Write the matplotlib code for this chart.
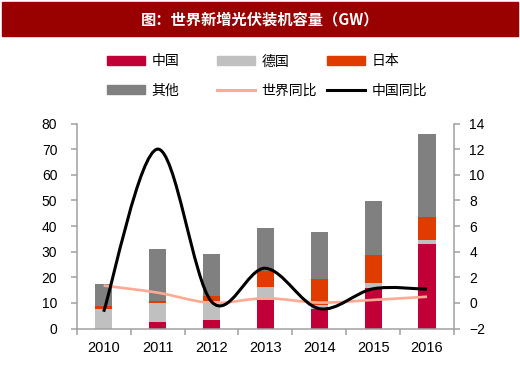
import matplotlib
matplotlib.use("Agg")
import matplotlib.pyplot as plt
from matplotlib.path import Path
from matplotlib.patches import PathPatch, Patch, Rectangle
from matplotlib.lines import Line2D

plt.rcParams['font.family'] = ['Liberation Sans', 'Noto Sans CJK SC', 'DejaVu Sans']

# data
years = ['2010', '2011', '2012', '2013', '2014', '2015', '2016']
china = [0.0, 2.4, 3.3, 11.1, 7.8, 15.7, 33.0]
germany = [7.6, 7.4, 7.6, 5.0, 1.4, 1.9, 1.4]
japan = [1.2, 1.0, 1.8, 6.2, 10.1, 11.1, 9.0]
other = [8.4, 20.1, 16.3, 16.8, 18.5, 21.2, 32.4]
world_yoy = [1.35, 0.8, 0.0, 0.36, 0.02, 0.23, 0.48]
china_yoy = [-0.69, 12.0, 0.1, 2.7, -0.45, 1.1, 1.06]

C_CHINA = '#C00037'
C_GER = '#C0C0C0'
C_JAP = '#E03C00'
C_OTH = '#808080'
C_WORLD = '#FCAA94'
C_CYOY = '#000000'
AXIS_C = '#A0A0A0'


def smooth_path(x, y):
    # excel style smoothed line as bezier segments
    n = len(x)
    verts = [(x[0], y[0])]
    codes = [Path.MOVETO]
    for i in range(n - 1):
        a = i - 1 if i > 0 else i
        b = i + 2 if i + 2 < n else i + 1
        c1 = (x[i] + (x[i + 1] - x[a]) / 6, y[i] + (y[i + 1] - y[a]) / 6)
        c2 = (x[i + 1] - (x[b] - x[i]) / 6, y[i + 1] - (y[b] - y[i]) / 6)
        verts += [c1, c2, (x[i + 1], y[i + 1])]
        codes += [Path.CURVE4] * 3
    return Path(verts, codes)


fig = plt.figure(figsize=(5.2, 3.73), dpi=100)
fig.patches.append(Rectangle((2 / 520, 1 - 36 / 373), 516 / 520, 34 / 373,
                             transform=fig.transFigure, color='#990000', zorder=0))
fig.text(0.5, 1 - 19.5 / 373, '图：世界新增光伏装机容量（GW）', color='white',
         fontsize=11, fontweight='bold', ha='center', va='center',
         family=['Noto Sans CJK SC', 'DejaVu Sans'])

ax = fig.add_axes([76.7 / 520, 1 - 328.5 / 373, (454 - 76.7) / 520, 205 / 373])
x = list(range(len(years)))
w = 0.32
bottom = [0.0] * len(x)
for vals, col in [(china, C_CHINA), (germany, C_GER), (japan, C_JAP), (other, C_OTH)]:
    ax.bar(x, vals, w, bottom=bottom, color=col, linewidth=0)
    bottom = [b + v for b, v in zip(bottom, vals)]

ax.set_ylim(0, 80)
ax.set_yticks(range(0, 81, 10))
ax.set_xlim(-0.5, 6.5)
ax.set_xticks([i - 0.5 for i in range(8)])
ax.set_xticklabels([])
ax.set_xticks(x, minor=True)
ax.set_xticklabels(years, minor=True)
ax.tick_params(axis='x', which='major', length=4, width=1.1, color=AXIS_C, direction='out')
ax.tick_params(axis='x', which='minor', length=0, pad=9, labelsize=10.5)
ax.tick_params(axis='y', length=4, width=1.1, color=AXIS_C, pad=10, labelsize=10)
for s in ['top', 'right']:
    ax.spines[s].set_visible(False)
for s in ['left', 'bottom']:
    ax.spines[s].set_color(AXIS_C)
    ax.spines[s].set_linewidth(1.1)

ax2 = ax.twinx()
ax2.set_ylim(-2, 14)
ax2.set_yticks(range(-2, 15, 2))
ax2.tick_params(axis='y', length=4, width=1.1, color=AXIS_C, pad=7, labelsize=10)
for s in ['top', 'left', 'bottom']:
    ax2.spines[s].set_visible(False)
ax2.spines['right'].set_color(AXIS_C)
ax2.spines['right'].set_linewidth(1.1)

ax2.add_patch(PathPatch(smooth_path(x, world_yoy), fill=False, edgecolor=C_WORLD, lw=1.9))
ax2.add_patch(PathPatch(smooth_path(x, china_yoy), fill=False, edgecolor=C_CYOY, lw=2.2))

cols = [
    ([Patch(color=C_CHINA), Patch(color=C_OTH)], ['中国', '其他'], 107),
    ([Patch(color=C_GER), Line2D([], [], color=C_WORLD, lw=2.2)], ['德国', '世界同比'], 217),
    ([Patch(color=C_JAP), Line2D([], [], color=C_CYOY, lw=2.2)], ['日本', '中国同比'], 327),
]
for handles, labels, px in cols:
    fig.legend(handles, labels, loc='upper left', bbox_to_anchor=(px / 520, 1 - 54.5 / 373),
               frameon=False, handlelength=2.7, handleheight=0.6,
               handletextpad=0.5, borderpad=0, borderaxespad=0, labelspacing=1.1,
               prop={'family': ['Noto Sans CJK SC', 'DejaVu Sans'], 'size': 10})

fig.savefig('out.png', dpi=100)
